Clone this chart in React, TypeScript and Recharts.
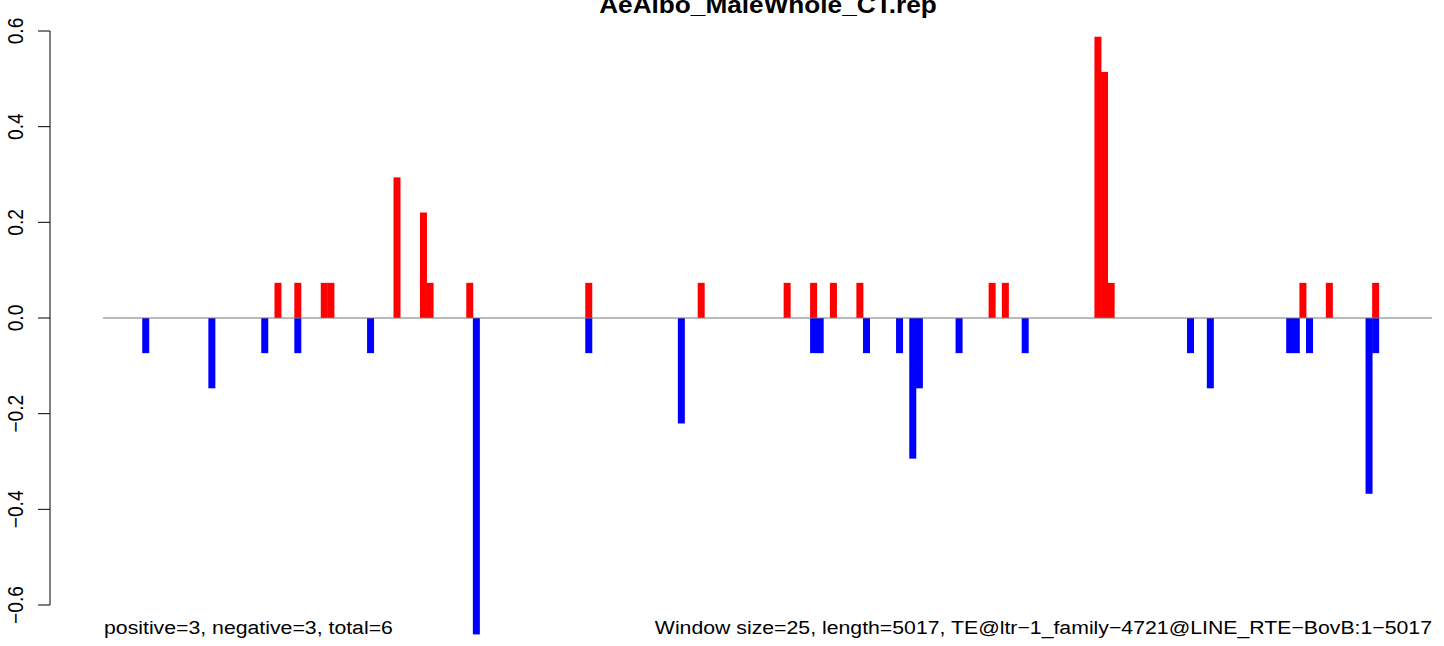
import React from 'react';
import { BarChart, Bar, XAxis, YAxis, ReferenceLine } from 'recharts';

// ---- text ----
const TITLE = 'AeAlbo_MaleWhole_CT.rep';
const LEFT_NOTE = 'positive=3, negative=3, total=6';
const RIGHT_NOTE = 'Window size=25, length=5017, TE@ltr\u22121_family\u22124721@LINE_RTE\u2212BovB:1\u22125017';

// ---- data (window index, value) ----
const positiveBins = [26, 29, 33, 34, 44, 48, 49, 55, 73, 90, 103, 107, 110, 114, 134, 136, 150, 151, 152, 181, 185, 192];
const positiveValues = [
  0.0735, 0.0735, 0.0735, 0.0735, 0.294, 0.2205,
  0.0735, 0.0735, 0.0735, 0.0735, 0.0735, 0.0735, 0.0735, 0.0735, 0.0735, 0.0735,
  0.588, 0.5145,
  0.0735, 0.0735, 0.0735, 0.0735,
];
const negativeBins = [6, 16, 24, 29, 40, 56, 73, 87, 107, 108, 115, 120, 122, 123, 129, 139, 164, 167, 179, 180, 182, 191, 192];
const negativeValues = [
  -0.0735, -0.147, -0.0735, -0.0735, -0.0735, -0.6615, -0.0735, -0.2205,
  -0.0735, -0.0735, -0.0735, -0.0735, -0.294, -0.147, -0.0735, -0.0735,
  -0.0735, -0.147, -0.0735, -0.0735, -0.0735, -0.3675, -0.0735,
];
const yTicks = [-0.6, -0.4, -0.2, 0, 0.2, 0.4, 0.6];
const windowCount = 201;

const allBins = Array.from(new Set([...positiveBins, ...negativeBins])).sort((a, b) => a - b);
const data = allBins.map((bin) => ({
  bin,
  pos: positiveValues[positiveBins.indexOf(bin)] ?? 0,
  neg: negativeValues[negativeBins.indexOf(bin)] ?? 0,
}));

const FONT = '"Liberation Sans", Arial, Helvetica, sans-serif';
const SX = 1.107;

const makeShape = (fill: string) => (props: any) => {
  const { x, y, width, height } = props;
  if (!height || !isFinite(height)) return <g />;
  const top = Math.min(y, y + height);
  const h = Math.abs(height);
  return <rect x={x + width / 2 - 3.5} y={top} width={7} height={h} fill={fill} />;
};

const YTick = (props: any) => {
  const { x, y, payload } = props;
  const label = Number(payload.value).toFixed(1).replace('-', '\u2212');
  return (
    <text
      transform={`translate(${x - 13}, ${y}) scale(${SX},1) rotate(-90)`}
      textAnchor="middle"
      fontSize={19.2}
      fontFamily={FONT}
      fill="#000"
    >
      {label}
    </text>
  );
};

export default function App() {
  return (
    <div style={{ position: 'absolute', left: 0, top: 0, width: 1444, height: 646, background: '#fff' }}>
      <BarChart
        width={1444}
        height={646}
        data={data}
        stackOffset="sign"
        margin={{ top: 11.87, right: 12, bottom: 2.73, left: 0 }}
      >
        <XAxis
          type="number"
          dataKey="bin"
          domain={[-8.5, windowCount - 0.5]}
          allowDataOverflow
          hide
        />
        <YAxis
          type="number"
          domain={[-0.68, 0.64]}
          allowDataOverflow
          ticks={yTicks}
          interval={0}
          width={50}
          tickSize={12}
          tickMargin={2}
          axisLine={false}
          tickLine={{ stroke: '#000', strokeWidth: 1 }}
          tick={<YTick />}
        />
        <ReferenceLine
          segment={[{ x: -0.5, y: 0 }, { x: windowCount - 0.5, y: 0 }]}
          stroke="#767676"
          strokeWidth={1}
          ifOverflow="visible"
        />
        <ReferenceLine
          segment={[{ x: -8.5, y: yTicks[0] }, { x: -8.5, y: yTicks[yTicks.length - 1] }]}
          stroke="#000"
          strokeWidth={1}
          ifOverflow="visible"
        />
        <Bar dataKey="pos" stackId="s" fill="#FF0000" isAnimationActive={false} shape={makeShape('#FF0000')} />
        <Bar dataKey="neg" stackId="s" fill="#0000FF" isAnimationActive={false} shape={makeShape('#0000FF')} />
      </BarChart>
      <svg
        width={1444}
        height={646}
        style={{ position: 'absolute', left: 0, top: 0, pointerEvents: 'none' }}
      >
        <text
          transform={`translate(768, 12.5) scale(1.11,1)`}
          textAnchor="middle"
          fontSize={23.6}
          fontWeight="bold"
          fontFamily={FONT}
          fill="#000"
        >
          {TITLE}
        </text>
        <text
          transform={`translate(104, 634) scale(${SX},1)`}
          textAnchor="start"
          fontSize={19.2}
          fontFamily={FONT}
          fill="#000"
        >
          {LEFT_NOTE}
        </text>
        <text
          transform={`translate(1432, 634) scale(${SX},1)`}
          textAnchor="end"
          fontSize={19.2}
          fontFamily={FONT}
          fill="#000"
        >
          {RIGHT_NOTE}
        </text>
      </svg>
    </div>
  );
}
